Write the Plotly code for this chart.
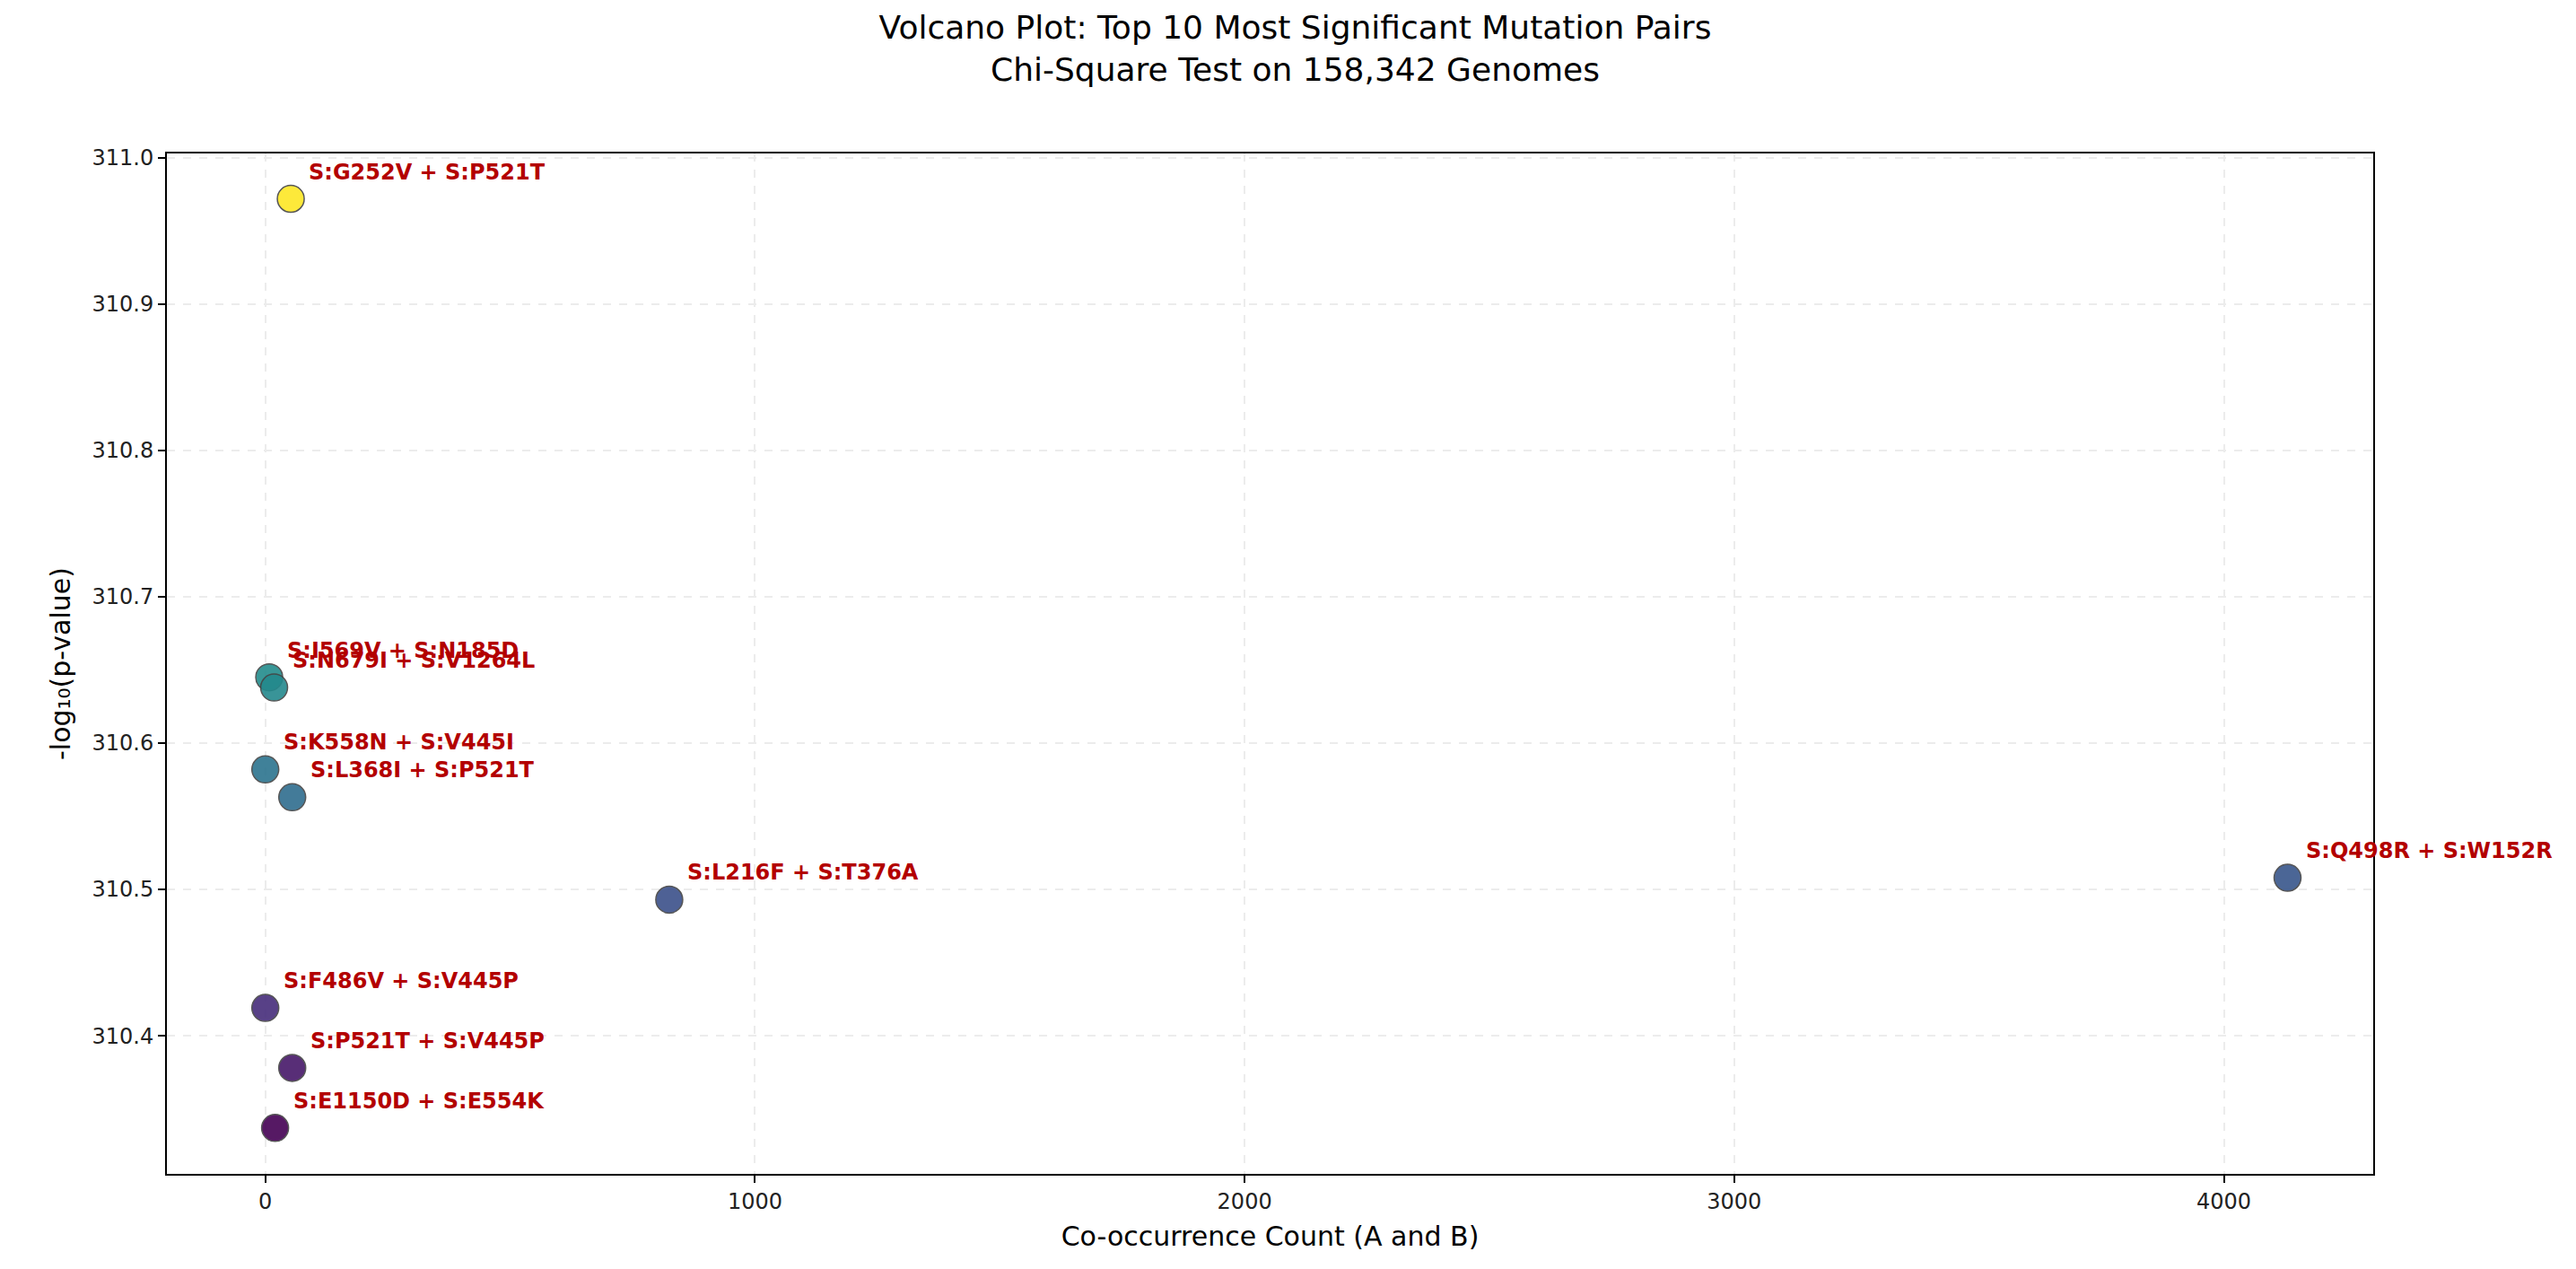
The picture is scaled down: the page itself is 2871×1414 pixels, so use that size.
import plotly.graph_objects as go

pairs = ["S:G252V + S:P521T", "S:I569V + S:N185D", "S:N679I + S:V1264L",
         "S:K558N + S:V445I", "S:L368I + S:P521T", "S:L216F + S:T376A",
         "S:Q498R + S:W152R", "S:F486V + S:V445P", "S:P521T + S:V445P",
         "S:E1150D + S:E554K"]
cooccurrence = [52, 8, 18, 0, 55, 825, 4130, 0, 55, 20]
neglog10p = [310.972, 310.645, 310.638, 310.582, 310.563, 310.493, 310.508, 310.419, 310.378, 310.337]

fig = go.Figure(go.Scatter(
    x=cooccurrence, y=neglog10p, mode="markers",
    marker=dict(size=30, color=neglog10p, colorscale="Viridis", opacity=0.9,
                line=dict(color="#444444", width=1.5)),
    showlegend=False))

for x, y, t in zip(cooccurrence, neglog10p, pairs):
    fig.add_annotation(x=x, y=y, text="<b>%s</b>" % t, showarrow=False,
                       xanchor="left", yanchor="bottom", xshift=18, yshift=14,
                       font=dict(color="#b30000", size=24, family="DejaVu Sans"))

axis = dict(showline=True, linecolor="black", linewidth=2, mirror=True,
            ticks="outside", ticklen=8, tickwidth=2, tickcolor="black",
            showgrid=True, gridcolor="#ececec", griddash="dash", gridwidth=1.5,
            zeroline=False, tickfont=dict(size=24, color="#222"))
fig.update_xaxes(**axis, range=[-201, 4305], tickvals=[0, 1000, 2000, 3000, 4000],
                 title=dict(text="Co-occurrence Count (A and B)", font=dict(size=30)))
fig.update_yaxes(**axis, range=[310.3056, 311.003], tickformat=".1f", dtick=0.1,
                 title=dict(text="-log₁₀(p-value)", font=dict(size=30)))
fig.update_layout(
    width=2871, height=1414, paper_bgcolor="white", plot_bgcolor="white",
    font=dict(family="DejaVu Sans", color="black"),
    margin=dict(l=178, r=234, t=163, b=114),
    title=dict(text="Volcano Plot: Top 10 Most Significant Mutation Pairs<br>Chi-Square Test on 158,342 Genomes",
               x=0.5, xanchor="center", y=0.975, yanchor="top", font=dict(size=36)))
fig.write_html("out.html")
